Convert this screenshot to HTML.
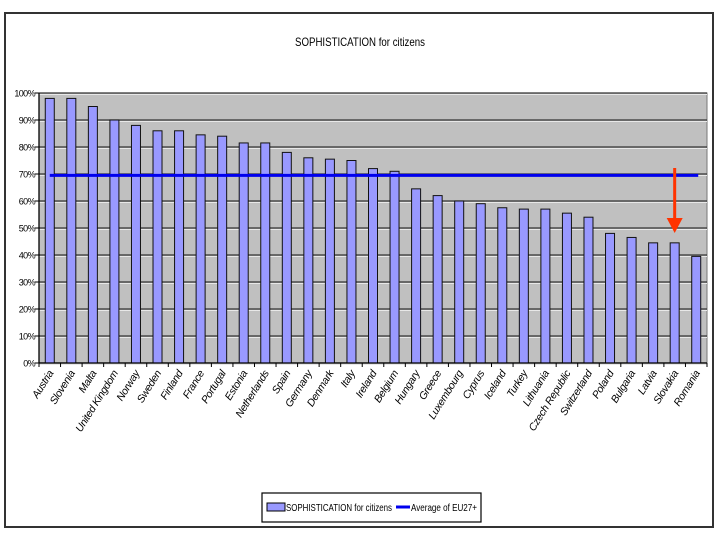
<!DOCTYPE html>
<html><head><meta charset="utf-8"><style>
body{margin:0;background:#fff;}
svg{display:block;font-family:"Liberation Sans",sans-serif;}
</style></head><body>
<svg id="chart" width="720" height="540">
<rect x="5" y="13" width="708" height="514" fill="#fff" stroke="#333" stroke-width="2"/>
<text x="360" y="46" text-anchor="middle" font-size="12" textLength="130" lengthAdjust="spacingAndGlyphs">SOPHISTICATION for citizens</text>
<g id="plot"></g>
<g>
<rect x="262" y="493" width="219" height="29" fill="#fff" stroke="#000" stroke-width="1.2"/>
<rect x="267" y="503" width="18" height="8" fill="#9999ff" stroke="#000"/>
<text x="286" y="511" font-size="10" textLength="106" lengthAdjust="spacingAndGlyphs">SOPHISTICATION for citizens</text>
<line x1="396" y1="507" x2="410" y2="507" stroke="#0000ee" stroke-width="3"/>
<text x="411" y="511" font-size="10" textLength="66" lengthAdjust="spacingAndGlyphs">Average of EU27+</text>
</g>
</svg>
<script>
const categories=["Austria","Slovenia","Malta","United Kingdom","Norway","Sweden","Finland","France","Portugal","Estonia","Netherlands","Spain","Germany","Denmark","Italy","Ireland","Belgium","Hungary","Greece","Luxembourg","Cyprus","Iceland","Turkey","Lithuania","Czech Republic","Switzerland","Poland","Bulgaria","Latvia","Slovakia","Romania"];
const values=[98,98,95,90,88,86,86,84.5,84,81.5,81.5,78,76,75.5,75,72,71,64.5,62,60,59,57.5,57,57,55.5,54,48,46.5,44.5,44.5,39.5];
const average=[69.5];
const yTicks=[0,10,20,30,40,50,60,70,80,90,100];
const NS="http://www.w3.org/2000/svg";
const g=document.getElementById('plot');
const L=39,R=707,T=93,B=363;
const bw=(R-L)/categories.length;
const y=v=>B-(v/100)*(B-T);
const x=i=>L+bw*i+bw/2;
function mk(t,a,p){const e=document.createElementNS(NS,t);for(const k in a)e.setAttribute(k,a[k]);(p||g).appendChild(e);return e;}
const bg=mk('rect',{x:L,y:T,width:R-L,height:B-T,fill:'#c0c0c0',stroke:'#777'});


yTicks.forEach(t=>{
 const ln=mk('line',{x1:L-4,x2:R,y1:y(t),y2:y(t),stroke:'#333','stroke-width':1.3});
 
 
 mk('line',{x1:L,x2:R,y1:y(t)+1.5,y2:y(t)+1.5,stroke:'#e8e8e8','stroke-width':1});
 const tx=mk('text',{x:L-4,y:y(t)+3.5,'text-anchor':'end','font-size':9,'letter-spacing':'-0.6'});
 tx.textContent=t+'%';
 
 
});
values.forEach((v,i)=>{
 const r=mk('rect',{x:x(i)-4.5,y:y(v),width:9,height:B-y(v),fill:'#9999ff',stroke:'#111','stroke-width':1});
 
 
});
mk('line',{x1:L,x2:R,y1:B,y2:B,stroke:'#000','stroke-width':1.3});
mk('line',{x1:L,x2:L,y1:T,y2:B,stroke:'#000','stroke-width':1.3});
for(let i=0;i<=categories.length;i++){mk('line',{x1:L+bw*i,x2:L+bw*i,y1:B,y2:B+4,stroke:'#000'});}
categories.forEach((c,i)=>{
 const tx=mk('text',{x:x(i)+4,y:B+10,'text-anchor':'end','font-size':10.5,'font-style':'italic','letter-spacing':'-0.3',transform:`rotate(-58 ${x(i)+4} ${B+10})`});
 tx.textContent=c;
 
 
});
const av=mk('line',{x1:x(0),x2:x(categories.length-1)+2,y1:y(average[0]),y2:y(average[0]),stroke:'#0000ee','stroke-width':3});


const ag=mk('g',{});


const ax=x(29);
mk('line',{x1:ax,x2:ax,y1:168,y2:220,stroke:'#ff3300','stroke-width':3},ag);
mk('polygon',{points:`${ax-8},218 ${ax+8},218 ${ax},233`,fill:'#ff3300'},ag);
</script>
</body></html>
